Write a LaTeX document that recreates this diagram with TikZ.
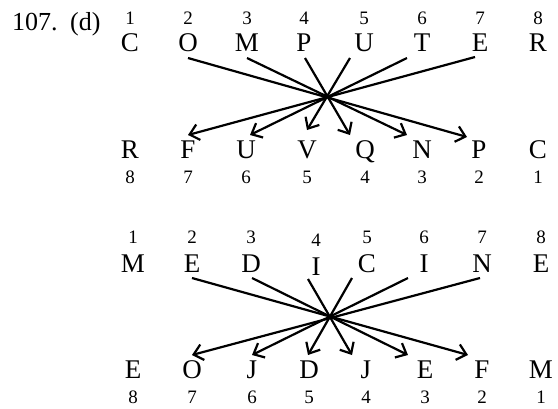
\documentclass[tikz,border=0pt]{standalone}
\usepackage{fontspec}
\setmainfont{Liberation Serif}
\usetikzlibrary{arrows.meta}
\begin{document}
\begin{tikzpicture}[x=1pt,y=-1pt,
  letter/.style={anchor=base,inner sep=0pt,font=\fontsize{27}{27}\selectfont},
  num/.style={anchor=base,inner sep=0pt,font=\fontsize{19}{19}\selectfont},
  title/.style={anchor=base west,inner sep=0pt,font=\fontsize{26}{26}\selectfont},
  arr/.style={line width=2.2pt,-{Straight Barb[length=9pt,width=16pt,line width=2.2pt]}}]
\useasboundingbox (0,0) rectangle (558,408);
% title
\node[title] (t107) at (12,30) {107.};
\node[title] (td) at (70,30) {(d)};
% ---- section 1 ----
\foreach \x/\l/\n [count=\i] in {130/C/1,188/O/2,247/M/3,304/P/4,364/U/5,422/T/6,480/E/7,538/R/8}{
  \node[num] (an\i) at (\x,24) {\n};
  \node[letter] (at\i) at (\x,51.5) {\l};
}
\foreach \x/\l/\n [count=\i] in {130/R/8,188/F/7,246/U/6,307/V/5,365/Q/4,422/N/3,479/P/2,538/C/1}{
  \node[letter] (ab\i) at (\x,158) {\l};
  \node[num] (abn\i) at (\x,183) {\n};
}
\coordinate (as2) at (188,58); \coordinate (ae2) at (467,137);
\coordinate (as3) at (247,58); \coordinate (ae3) at (407,135);
\coordinate (as4) at (305,58); \coordinate (ae4) at (350,135);
\coordinate (as5) at (350,58); \coordinate (ae5) at (307,130);
\coordinate (as6) at (407,58); \coordinate (ae6) at (250,135);
\coordinate (as7) at (475,57); \coordinate (ae7) at (188,135);
\foreach \i in {2,...,7}{ \draw[arr] (as\i) -- (ae\i); }
% ---- section 2 ----
\foreach \x/\l/\n/\dy [count=\i] in {133/M/1/0,192/E/2/0,251/D/3/0,316/I/4/3,367/C/5/0,424/I/6/0,482/N/7/0,541/E/8/0}{
  \node[num] (bn\i) at (\x,243+\dy) {\n};
  \node[letter] (bt\i) at (\x,272+\dy) {\l};
}
\foreach \x/\l/\n [count=\i] in {133/E/8,192/O/7,252/J/6,309/D/5,366/J/4,425/E/3,482/F/2,541/M/1}{
  \node[letter] (bb\i) at (\x,378) {\l};
  \node[num] (bbn\i) at (\x,403) {\n};
}
\coordinate (bs2) at (192,278); \coordinate (be2) at (468,355);
\coordinate (bs3) at (252,278); \coordinate (be3) at (408,355);
\coordinate (bs4) at (308,279); \coordinate (be4) at (352,355);
\coordinate (bs5) at (352,278); \coordinate (be5) at (308,355);
\coordinate (bs6) at (408,278); \coordinate (be6) at (252,355);
\coordinate (bs7) at (480,278); \coordinate (be7) at (192,355);
\foreach \i in {2,...,7}{ \draw[arr] (bs\i) -- (be\i); }
\end{tikzpicture}
\end{document}
